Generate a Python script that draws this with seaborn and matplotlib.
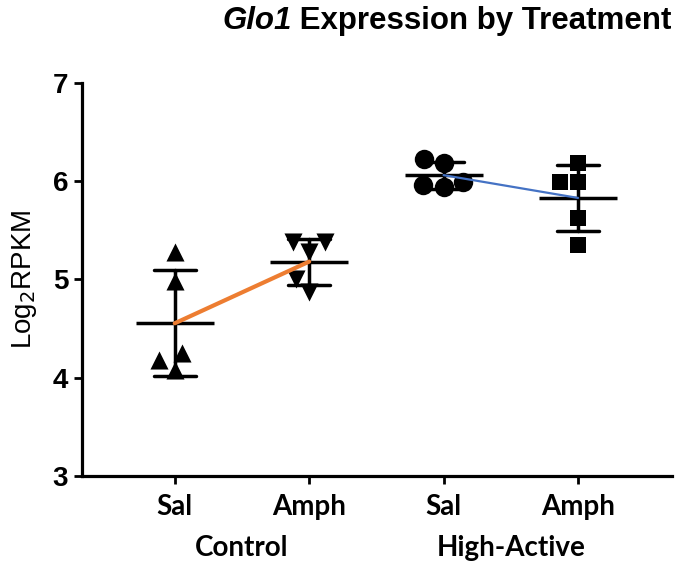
import matplotlib
matplotlib.use("Agg")
import matplotlib.pyplot as plt
import matplotlib.transforms as mtransforms
import seaborn as sns
import pandas as pd

groups = ["Control Sal", "Control Amph", "High-Active Sal", "High-Active Amph"]
tick_labels = ["Sal", "Amph", "Sal", "Amph"]
strains = ["Control", "High-Active"]

control_sal = [5.28, 4.98, 4.25, 4.18, 4.08]
control_amph = [5.38, 5.38, 5.28, 5.00, 4.87]
ha_sal = [6.23, 6.19, 5.99, 5.94, 5.96]
ha_amph = [6.19, 5.99, 5.99, 5.63, 5.35]

markers = ["^", "v", "o", "s"]
marker_sizes = [13, 13, 14, 12]
line_colors = ["#ED7D31", "#4472C4"]

values = [control_sal, control_amph, ha_sal, ha_amph]
df = pd.DataFrame({
    "group": [g for g, v in zip(groups, values) for _ in v],
    "value": [x for v in values for x in v],
})

sns.set_style("ticks")
plt.rcParams['font.family'] = ['Liberation Sans', 'DejaVu Sans']
plt.rcParams['text.color'] = 'black'
plt.rcParams['axes.labelcolor'] = 'black'
plt.rcParams['xtick.color'] = 'black'
plt.rcParams['ytick.color'] = 'black'

fig = plt.figure(figsize=(6.79, 5.70), dpi=100)
ax = fig.add_axes([0.1208, 0.165, 0.869, 0.6894])

# individual points
for g, m, s in zip(groups, markers, marker_sizes):
    sub = df[df["group"] == g]
    sns.swarmplot(data=sub, x="group", y="value", order=groups, marker=m, size=s,
                  color="black", linewidth=0, ax=ax, zorder=3)

# mean +/- SD
sns.pointplot(data=df, x="group", y="value", order=groups, errorbar="sd", capsize=0.31,
              linestyle="none", marker="_", markersize=56, markeredgewidth=2.5,
              color="black", err_kws={"linewidth": 2.5}, ax=ax)

# lines between treatment means
means = df.groupby("group", sort=False)["value"].mean()
ax.plot([0, 1], means[groups[:2]].values, color=line_colors[0], lw=3, zorder=6)
ax.plot([2, 3], means[groups[2:]].values, color=line_colors[1], lw=1.6, zorder=6)

ax.set_xlim(-0.69, 3.70)
ax.set_ylim(3, 7)
ax.set_yticks([3, 4, 5, 6, 7])
ax.set_xticks(range(4))
ax.set_xticklabels(tick_labels, fontsize=20, fontweight="bold", family=["Lato", "DejaVu Sans"])
for lab in ax.get_yticklabels():
    lab.set_fontsize(20)
    lab.set_fontweight("bold")
ax.set_xlabel("")
ax.set_ylabel("Log$_2$RPKM", fontsize=20, labelpad=10)
sns.despine(ax=ax)
for sp in ["left", "bottom"]:
    ax.spines[sp].set_linewidth(2.3)
    ax.spines[sp].set_color("black")
ax.tick_params(axis="both", length=6, width=2, color="black", labelcolor="black", pad=4)
ax.tick_params(axis="x", pad=7)

trans = mtransforms.blended_transform_factory(ax.transData, fig.transFigure)
for i, name in enumerate(strains):
    ax.text(2 * i + 0.5, 1 - 548 / 570, name, transform=trans, ha="center", va="center",
            fontsize=20, fontweight="bold", family=["Lato", "DejaVu Sans"], color="black")

t1 = fig.text(222 / 679, 1 - 6 / 570, "Glo1", fontsize=22.5, fontweight="bold",
              style="italic", ha="left", va="top", color="black")
ax.annotate(" Expression by Treatment", xy=(1, 0), xycoords=t1, va="bottom", ha="left",
            fontsize=22.5, fontweight="bold", color="black", annotation_clip=False)

fig.savefig("out.png", dpi=100)
